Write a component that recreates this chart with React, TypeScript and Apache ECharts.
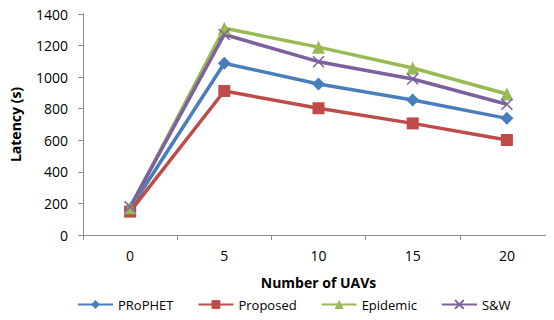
import React, { useEffect, useRef } from "react";
import * as echarts from "echarts";

const categories = ["0", "5", "10", "15", "20"];
const prophet = [165, 1088, 957, 855, 739];
const proposed = [148, 912, 803, 707, 602];
const epidemic = [172, 1310, 1190, 1058, 893];
const sw = [178, 1270, 1098, 988, 828];
const yTicks = { min: 0, max: 1400, interval: 200 };

const FONT = "'Open Sans', 'Liberation Sans', sans-serif";

export default function App() {
  const ref = useRef<HTMLDivElement>(null);
  useEffect(() => {
    if (!ref.current) return;
    const chart = echarts.init(ref.current, undefined, { renderer: "svg" });
    const mk = (name: string, data: number[], color: string, symbol: string, size: number) => ({
      name,
      type: "line",
      data,
      symbol,
      symbolSize: size,
      lineStyle: { color, width: 3.5 },
      itemStyle: { color },
      emphasis: { disabled: true },
    });
    // "x" cross marker for the S&W series
    const cross = "path://M0,0 L10,10 M10,0 L0,10";
    chart.setOption({
      animation: false,
      textStyle: { fontFamily: FONT },
      grid: { left: 79, right: 0, top: 14, bottom: 85 },
      xAxis: {
        type: "category",
        data: categories,
        boundaryGap: true,
        name: "Number of UAVs",
        nameLocation: "middle",
        nameGap: 40,
        nameTextStyle: { fontFamily: FONT, fontWeight: "bold", fontSize: 14, color: "#000" },
        axisLine: { lineStyle: { color: "#8c8c8c", width: 1 } },
        axisTick: { show: true, alignWithLabel: false, length: 5, lineStyle: { color: "#8c8c8c" } },
        axisLabel: { color: "#000", fontSize: 14, margin: 13, fontFamily: FONT },
        splitLine: { show: false },
      },
      yAxis: {
        type: "value",
        min: yTicks.min,
        max: yTicks.max,
        interval: yTicks.interval,
        name: "Latency (s)",
        nameLocation: "middle",
        nameGap: 61,
        nameRotate: 90,
        nameTextStyle: { fontFamily: FONT, fontWeight: "bold", fontSize: 14, color: "#000" },
        axisLine: { show: true, lineStyle: { color: "#8c8c8c", width: 1 } },
        axisTick: { show: true, length: 5, lineStyle: { color: "#8c8c8c" } },
        axisLabel: {
          color: "#000",
          fontSize: 14,
          margin: 15,
          fontFamily: FONT,
          formatter: (v: number) => String(v),
        },
        splitLine: { show: false },
      },
      legend: {
        bottom: 4,
        left: 72,
        itemWidth: 35,
        itemHeight: 11,
        itemGap: 24,
        textStyle: { fontFamily: FONT, fontSize: 13, color: "#000" },
        data: ["PRoPHET", "Proposed", "Epidemic", "S&W"],
      },
      series: [
        mk("PRoPHET", prophet, "#4a7ebb", "diamond", 13),
        mk("Proposed", proposed, "#be4b48", "rect", 12),
        mk("Epidemic", epidemic, "#98b954", "triangle", 13),
        {
          ...mk("S&W", sw, "#7d60a0", cross, 11),
          itemStyle: { color: "#7d60a0", borderColor: "#7d60a0", borderWidth: 1.5 },
        },
      ],
    });
    return () => chart.dispose();
  }, []);
  return <div ref={ref} style={{ width: 554, height: 320, margin: "-8px 0 0 -8px" }} />;
}
